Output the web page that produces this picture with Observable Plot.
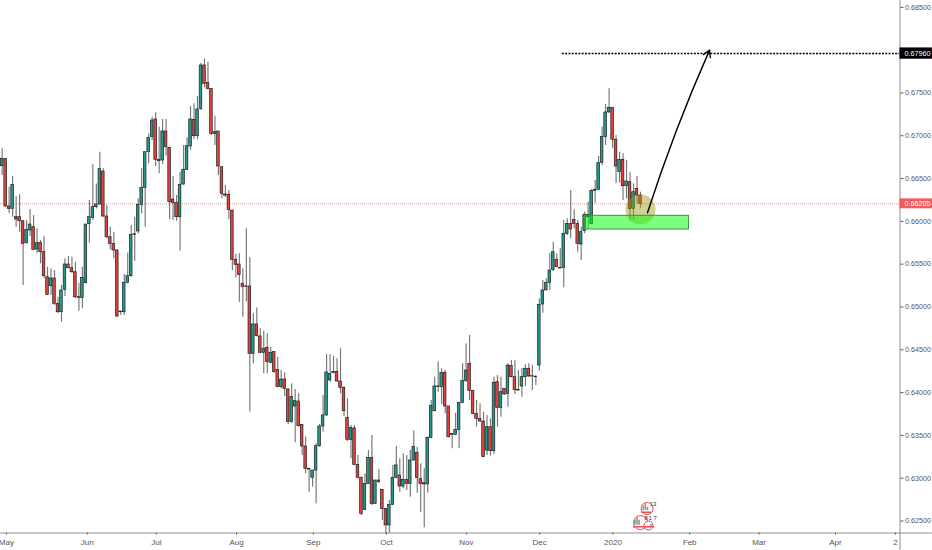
<!DOCTYPE html>
<html>
<head>
<meta charset="utf-8">
<script src="https://cdn.jsdelivr.net/npm/d3@7"></script>
<script src="https://cdn.jsdelivr.net/npm/@observablehq/plot@0.6"></script>
<style>
html,body{margin:0;padding:0;background:#fff;overflow:hidden}
svg{display:block}
</style>
</head>
<body>
<div id="chart"></div>
<script>
const open = [.66645,.66730,.66174,.66146,.66049,.66049,.66002,.65745,.65893,.65932,
.65671,.65749,.65640,.65348,.65243,.65333,.65037,.64939,.65200,.65496,
.65453,.65406,.65114,.65107,.65278,.65971,.66041,.66166,.66197,.66582,
.66057,.65815,.65737,.65660,.64947,.64939,.65282,.65360,.65850,.65882,
.66193,.66392,.66808,.66984,.67190,.66719,.66711,.67050,.66859,.66255,
.66213,.66049,.66431,.66602,.66875,.67186,.66995,.67315,.67821,.67618,
.67548,.67022,.67050,.66633,.66314,.66310,.66127,.65551,.65496,
.65271,.65240,.65240,.64453,.64796,.64656,.64465,.64523,.64348,.64473,.64266,
.64064,.64153,.64036,.63655,.63838,.63896,.63624,.63371,.63110,.63005,
.63090,.63374,.63604,.63733,.64142,.64239,.64239,.64130,.64056,.63702,
.63448,.63581,.63156,.63005,.62631,.62934,.63238,.62701,.62973,.62864,
.62642,.62448,.62689,.63005,.63032,.62903,.62981,.62934,.63207,.63297,
.62989,.62942,.62927,.63472,.63783,.64072,.64063,.64231,.63838,.63518,
.63507,.63565,.63880,.64137,.64336,.64021,.63752,.63693,.63662,.63323,
.63596,.63316,.64122,.63822,.64044,.63985,.64309,.64180,.64032,.64071,
.64180,.64278,.64192,.64184,.64316,.65029,.65193,.65282,.65434,.65551,
.65457,.65454,.65855,.65971,.66018,.65971,.65730,.65886,.66077,.65971,
.66357,.66369,.66684,.66984,.67272,.67327,.66953,.66575,.66719,.66411,
.66458,.66147,.66380,.66302];
const close = [.66730,.66174,.66146,.66427,.66022,.66002,.65737,.65901,.65963,.65667,
.65745,.65640,.65360,.65142,.65333,.65037,.64939,.65192,.65496,.65453,
.65406,.65114,.65107,.65340,.65963,.66049,.66166,.66197,.66610,.66057,
.65815,.65737,.65660,.64889,.64939,.65282,.65360,.65843,.65843,.66193,
.66392,.66808,.66976,.67178,.66719,.66703,.67050,.66867,.66224,.66213,
.66049,.66427,.66602,.66878,.67190,.66995,.67307,.67821,.67607,.67548,
.67022,.67042,.66641,.66322,.66302,.66135,.65551,.65492,.65375,
.65232,.65236,.64453,.64796,.64659,.64465,.64512,.64356,.64465,.64239,.64064,
.64153,.64044,.63655,.63947,.63900,.63608,.63371,.63110,.63102,.63090,
.63374,.63604,.63733,.64235,.64219,.64231,.64130,.64056,.63783,.63448,
.63589,.63156,.63005,.62584,.62934,.63238,.62701,.62973,.62954,.62642,
.62448,.62689,.63005,.63149,.62903,.62981,.62934,.63207,.63363,.63001,
.62934,.62927,.63472,.63846,.64072,.64064,.64231,.63838,.63479,.63507,
.63565,.63880,.64137,.64258,.64021,.63752,.63693,.63662,.63246,.63596,
.63316,.64114,.63822,.64005,.63978,.64316,.64180,.64032,.64024,.64180,
.64278,.64188,.64188,.64180,.65025,.65193,.65282,.65426,.65640,.65465,
.65450,.65855,.65971,.65905,.65971,.65738,.65874,.66077,.66049,.66357,
.66369,.66680,.66984,.67272,.67327,.66953,.66641,.66719,.66411,.66466,
.66143,.66341,.66302,.66205];
const high = [.66847,.66730,.66399,.66524,.66290,.66310,.66002,.66010,.66139,.66068,
.65913,.65776,.65827,.65465,.65445,.65426,.65114,.65251,.65562,.65590,
.65582,.65523,.65278,.65465,.65963,.66244,.66660,.66438,.66808,.66614,
.66185,.65932,.65874,.65667,.64947,.65379,.65632,.65952,.66049,.66263,
.66614,.66808,.67022,.67217,.67268,.67100,.67190,.67190,.66859,.66524,
.66302,.66575,.66886,.66976,.67342,.67373,.67459,.67848,.67899,.67860,
.67548,.67229,.67050,.66633,.66419,.66361,.66127,.65613,.65621,
.65446,.65913,.65575,.64920,.64987,.64745,.64718,.64687,.64531,.64473,.64414,
.64258,.64231,.64044,.64103,.64036,.63986,.63624,.63480,.63110,.63090,
.63402,.63628,.63966,.64445,.64445,.64422,.64395,.64512,.64064,.63927,
.63616,.63616,.63265,.63012,.63051,.63324,.63499,.62973,.63098,.62864,
.62642,.62740,.63149,.63374,.63227,.63285,.63265,.63324,.63550,.63363,
.63168,.63110,.63480,.63908,.64181,.64356,.64278,.64258,.63838,.63518,
.63760,.63888,.64336,.64570,.64667,.64024,.63908,.63869,.63771,.63732,
.63693,.64180,.64200,.64180,.64044,.64336,.64375,.64375,.64258,.64278,
.64324,.64336,.64316,.64200,.65095,.65309,.65329,.65621,.65757,.65621,
.65679,.66010,.66030,.66361,.66135,.66010,.65932,.66108,.66225,.66369,
.66478,.66758,.67101,.67366,.67549,.67327,.67003,.66809,.66789,.66711,
.66575,.66439,.66524,.66341];
const low = [.66536,.66166,.66088,.66049,.65932,.65874,.65251,.65737,.65823,.65660,
.65621,.65504,.65329,.65134,.65134,.65017,.64920,.64822,.65122,.65445,
.65395,.65095,.64951,.64978,.65270,.65745,.66010,.66146,.66185,.66049,
.65796,.65667,.65562,.64881,.64900,.64900,.65270,.65348,.65535,.65854,
.66088,.65932,.66672,.66945,.66641,.66555,.66664,.66762,.66018,.66010,
.66002,.65652,.66419,.66594,.66828,.66952,.66952,.67295,.67560,.67537,
.67003,.66886,.66536,.66263,.66283,.66018,.65426,.65340,.65056,
.64881,.65057,.63772,.64336,.64648,.64453,.64219,.64219,.64336,.64227,.64056,
.64044,.63955,.63628,.63643,.63413,.63596,.63265,.63051,.62837,.62896,
.62701,.63363,.63538,.63721,.64122,.64219,.64122,.63986,.63721,.63429,
.63227,.63149,.62993,.62565,.62623,.62927,.62681,.62693,.62934,.62506,
.62343,.62358,.62681,.62993,.62837,.62876,.62857,.62779,.63199,.62825,
.62596,.62420,.62825,.63460,.63772,.64005,.63861,.63752,.63471,.63343,
.63499,.63343,.63869,.64122,.63908,.63744,.63596,.63654,.63238,.63265,
.63257,.63277,.63596,.63713,.63966,.63830,.64172,.63978,.64024,.63947,
.64071,.64180,.64024,.64083,.64250,.64928,.65193,.65193,.65415,.65465,
.65446,.65224,.65835,.65796,.65913,.65640,.65543,.65855,.65913,.65960,
.66213,.66361,.66653,.66887,.67264,.66848,.66439,.66447,.66244,.66264,
.66003,.66018,.66205,.66155];

const monthLabels = ["May","Jun","Jul","Aug","Sep","Oct","Nov","Dec","2020","Feb","Mar","Apr","2"];
const monthIndex  = [2.2,25.4,45.2,68.2,90.2,111.2,134.1,155.1,176.1,198.1,218,239.9,257.1];
const priceTicks  = [.625,.63,.635,.64,.645,.65,.655,.66,.665,.67,.675,.685];

const lastPrice = 0.66205;
const targetPrice = 0.6796;
const targetStart = 161.6;
const arrowFrom = {x:186, y:0.6610};
const arrowTo   = {x:203.8, y:0.6800};
const zone = {x1:168, x2:197.9, y1:0.65905, y2:0.66065};
const spot = {x:184, y:0.66138};

const iconDots = [{x:185.9,y:.62646,r:6},{x:184,y:.62482,r:7},{x:186.3,y:.62447,r:4.5}];
const iconBars = [{x:184.8,h:.62675},{x:185.4,h:.62700},{x:186,h:.62660},{x:182.4,h:.62510},{x:183,h:.62540},{x:183.6,h:.62510},{x:187,h:.62460}];
const iconBase = [.62620,.62620,.62620,.62450,.62450,.62450,.62430];
const iconLabels = [{x:187.6,y:.62700,t:"13"},{x:185.6,y:.62535,t:"8"},{x:186.8,y:.62535,t:"1"},{x:188.2,y:.62535,t:"7"}];

if (new Set([open.length,close.length,high.length,low.length]).size !== 1) throw new Error("length mismatch");

const candles = open.map((o,i)=>({i:i+1,o,c:close[i],h:high[i],l:low[i]}));
const xMax = 258.4, xEnd = 267.7, yBottom = 0.62155, yLow = 0.6236, yHigh = 0.6858;
const tag = (p,half,fill)=>Plot.rect([p],{x1:xMax,x2:xEnd,y1:d=>d-half,y2:d=>d+half,fill});

const chart = Plot.plot({
  width:932, height:550,
  marginLeft:0, marginRight:32.5, marginTop:0, marginBottom:17.5,
  x:{type:"linear",domain:[0.521,xMax],axis:null},
  y:{type:"linear",domain:[yLow,yHigh],axis:null},
  r:{type:"identity"},
  style:{fontFamily:"'Liberation Sans',sans-serif",fontSize:"7.5px",background:"#fff",overflow:"visible"},
  marks:[
    Plot.ruleY([lastPrice],{x1:0.521,x2:xMax,stroke:"#ef5350",strokeWidth:0.7,strokeOpacity:.9,strokeDasharray:"1,1"}),
    Plot.ruleX(candles,{x:"i",y1:"l",y2:"h",stroke:"#757575",strokeWidth:1.15}),
    Plot.rect(candles,{x1:d=>d.i-0.37,x2:d=>d.i+0.37,y1:"o",y2:"c",
      fill:d=>d.c>=d.o?"#1f9c8c":"#e5403c",stroke:"#202020",strokeWidth:0.7}),
    Plot.dot([spot],{x:"x",y:"y",r:15,fill:"#999911",fillOpacity:.45}),
    Plot.rect([zone],{x1:"x1",x2:"x2",y1:"y1",y2:"y2",fill:"#00ff00",fillOpacity:.5,stroke:"#3f8f45",strokeWidth:1}),
    Plot.ruleY([targetPrice],{x1:targetStart,x2:xMax,stroke:"#000",strokeWidth:1.5,strokeDasharray:"2,1.3"}),
    Plot.arrow([0],{x1:()=>arrowFrom.x,y1:()=>arrowFrom.y,x2:()=>arrowTo.x,y2:()=>arrowTo.y,
      stroke:"#000",strokeWidth:1.4,headLength:8,bend:3}),
    Plot.ruleY([yLow],{x1:0.521,x2:xEnd,stroke:"#8f8f93",strokeWidth:1}),
    Plot.ruleX([xMax],{y1:yBottom,y2:yHigh,stroke:"#8f8f93",strokeWidth:1}),
    Plot.axisY({anchor:"right",ticks:priceTicks,tickFormat:d3.format(".5f"),tickSize:3,tickPadding:2,
      color:"#555",label:null,fontSize:7.2}),
    Plot.axisX({anchor:"bottom",ticks:monthIndex,tickFormat:d=>monthLabels[monthIndex.indexOf(d)],tickSize:2,tickPadding:4,
      color:"#555",label:null,fontSize:8}),
    tag(targetPrice,0.00066,"#000"),
    tag(lastPrice,0.00058,"#f45c5c"),
    Plot.text([targetPrice],{x:xMax,y:d=>d,text:d=>d.toFixed(5),dx:4.5,textAnchor:"start",fill:"#fff",fontSize:7.2}),
    Plot.text([lastPrice],{x:xMax,y:d=>d,text:d=>d.toFixed(5),dx:4.5,textAnchor:"start",fill:"#fff",fontSize:7.2}),
    Plot.dot(iconDots,{x:"x",y:"y",r:"r",fill:"#fff",stroke:"#ee4444",strokeWidth:1}),
    Plot.ruleX(iconBars,{x:"x",y1:(d,i)=>iconBase[i],y2:"h",stroke:"#8a9a9a",strokeWidth:1.6}),
    Plot.ruleY(iconBase.slice(0,1),{x1:184.3,x2:187.2,stroke:"#ee4444",strokeWidth:1.4,dy:1.5}),
    Plot.ruleY(iconBase.slice(3,4),{x1:182,x2:188,stroke:"#ee4444",strokeWidth:1.4,dy:1.5}),
    Plot.text(iconLabels,{x:"x",y:"y",text:"t",fill:"#333",fontSize:6})
  ]
});
document.getElementById("chart").appendChild(chart);
</script>
</body>
</html>
